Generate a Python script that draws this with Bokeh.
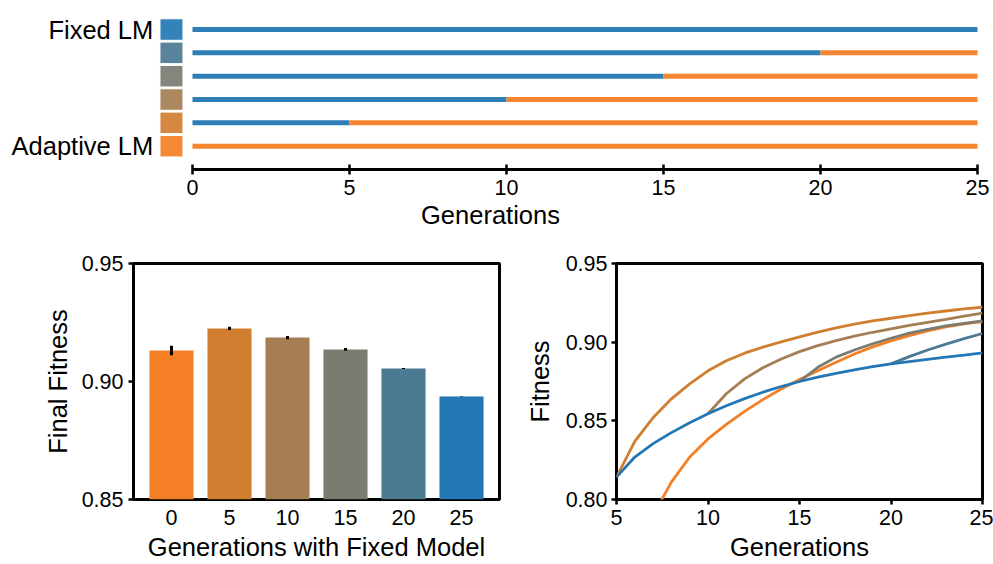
from bokeh.plotting import figure
from bokeh.layouts import column, row
from bokeh.models import Range1d, FixedTicker, NumeralTickFormatter
from bokeh.core.properties import value
from bokeh.embed import file_html
from bokeh.resources import INLINE

FONT = "Liberation Sans"
TICK_FS = "21.5px"
LABEL_FS = "25.5px"

# ---------------- data ----------------
switch_gens = [0, 5, 10, 15, 20, 25]           # generations with fixed model
colors = ["#f47f24", "#d07e30", "#a57e53", "#7b7b72", "#4c7a93", "#2377b4"]
final_fitness = [0.9131, 0.9225, 0.9186, 0.9136, 0.9055, 0.8936]
final_err = [0.0020, 0.0007, 0.0007, 0.0006, 0.0002, 0.0001]
total_gens = 25
row_labels = {0: "Adaptive LM", 5: "Fixed LM"}
fixed_color = "#2377b4"
adaptive_color = "#f47f24"

# fitness curves (generation, fitness)
gens_fixed = list(range(5, 26))
fit_fixed = [0.8142, 0.8270, 0.8355, 0.8425, 0.8488, 0.8545, 0.8596, 0.8641, 0.8682, 0.8718,
             0.8750, 0.8778, 0.8802, 0.8824, 0.8844, 0.8862, 0.8877, 0.8891, 0.8905, 0.8918, 0.8932]
gens_sw0 = list(range(7, 26))
fit_sw0 = [0.7900, 0.8110, 0.8270, 0.8385, 0.8478, 0.8560, 0.8635, 0.8702, 0.8762, 0.8818,
           0.8872, 0.8925, 0.8970, 0.9008, 0.9042, 0.9072, 0.9097, 0.9116, 0.9131]
gens_sw5 = list(range(5, 26))
fit_sw5 = [0.8142, 0.8370, 0.8520, 0.8640, 0.8735, 0.8818, 0.8882, 0.8930, 0.8968, 0.9002,
           0.9034, 0.9064, 0.9091, 0.9115, 0.9136, 0.9152, 0.9168, 0.9184, 0.9198, 0.9211, 0.9222]
gens_sw10 = list(range(10, 26))
fit_sw10 = [0.8545, 0.8672, 0.8767, 0.8837, 0.8893, 0.8940, 0.8978, 0.9010, 0.9038, 0.9063,
            0.9085, 0.9106, 0.9126, 0.9145, 0.9165, 0.9185]
gens_sw15 = list(range(15, 26))
fit_sw15 = [0.8750, 0.8840, 0.8905, 0.8950, 0.8990, 0.9025, 0.9057, 0.9082, 0.9103, 0.9120, 0.9135]
gens_sw20 = list(range(20, 26))
fit_sw20 = [0.8862, 0.8908, 0.8950, 0.8988, 0.9022, 0.9055]

curves = [(gens_sw0, fit_sw0), (gens_sw5, fit_sw5), (gens_sw10, fit_sw10),
          (gens_sw15, fit_sw15), (gens_sw20, fit_sw20), (gens_fixed, fit_fixed)]


def style_axes(p):
    for ax in p.axis:
        ax.major_label_text_font = FONT
        ax.major_label_text_font_size = TICK_FS
        ax.major_label_text_color = "black"
        ax.axis_label_text_font = FONT
        ax.axis_label_text_font_size = LABEL_FS
        ax.axis_label_text_font_style = "normal"
        ax.axis_label_text_color = "black"
        ax.minor_tick_line_color = None
        ax.major_tick_line_color = "black"
        ax.major_tick_line_width = 2.5
        ax.major_tick_in = 0
        ax.major_tick_out = 5
        ax.axis_line_color = None
    p.grid.visible = False
    p.background_fill_color = "white"
    p.border_fill_color = "white"


# ---------------- top panel ----------------
top = figure(width=993, height=240, output_backend="svg", toolbar_location=None,
             x_range=Range1d(-6.115, 25.096), y_range=Range1d(-1.0, 6.245),
             y_axis_location=None, min_border_left=0, min_border_right=13,
             min_border_top=0, min_border_bottom=71)
style_axes(top)
top.outline_line_color = None
ax = top.xaxis[0]
ax.ticker = FixedTicker(ticks=[0, 5, 10, 15, 20, 25])
ax.bounds = (0, total_gens)
ax.axis_line_color = "black"
ax.axis_line_width = 3
ax.major_tick_in = 5
ax.major_tick_out = 5
ax.major_label_standoff = 5
ax.axis_label = "Generations"
ax.axis_label_standoff = 3

rows_y = list(range(len(switch_gens)))
bx0, bx1, by = [], [], []
ox0, ox1, oy = [], [], []
for yy, s in zip(rows_y, switch_gens):
    if s > 0:
        bx0.append(0); bx1.append(s); by.append(yy)
    if s < total_gens:
        ox0.append(s); ox1.append(total_gens); oy.append(yy)
top.segment(x0=bx0, y0=by, x1=bx1, y1=by, line_color=fixed_color, line_width=5,
            line_cap="butt", line_alpha=0.95)
top.segment(x0=ox0, y0=oy, x1=ox1, y1=oy, line_color=adaptive_color, line_width=5,
            line_cap="butt", line_alpha=0.95)
top.rect(x=[-0.67] * len(rows_y), y=rows_y, width=23, height=21.5,
         width_units="screen", height_units="screen",
         fill_color=colors, fill_alpha=0.92, line_color="white", line_width=1)
top.text(x=[-1.25, -1.25], y=list(row_labels.keys()), text=list(row_labels.values()),
         text_font=value(FONT), text_font_size=LABEL_FS, text_align="right",
         text_baseline="middle", text_color="black")

# ---------------- bottom-left: bar chart ----------------
idx = list(range(len(switch_gens)))
bl = figure(width=508, height=324, output_backend="svg", toolbar_location=None,
            x_range=Range1d(-0.655, 5.655), y_range=Range1d(0.85, 0.95),
            min_border_left=133, min_border_right=9, min_border_top=23, min_border_bottom=65)
style_axes(bl)
bl.outline_line_color = "black"
bl.outline_line_width = 3
bl.outline_line_alpha = 1
bl.vbar(x=idx, top=final_fitness, bottom=0.85, width=0.76, fill_color=colors, line_color=None)
bl.segment(x0=idx, x1=idx,
           y0=[f - e for f, e in zip(final_fitness, final_err)],
           y1=[f + e for f, e in zip(final_fitness, final_err)],
           line_color="black", line_width=3)
bx = bl.xaxis[0]
bx.ticker = FixedTicker(ticks=idx)
bx.major_label_overrides = {i: str(g) for i, g in zip(idx, switch_gens)}
bx.major_tick_out = 0
bx.major_label_standoff = 10
bx.axis_label = "Generations with Fixed Model"
bx.axis_label_standoff = 5
by_ = bl.yaxis[0]
by_.ticker = FixedTicker(ticks=[0.85, 0.90, 0.95])
by_.formatter = NumeralTickFormatter(format="0.00")
by_.major_label_standoff = 5
by_.axis_label = "Final Fitness"
by_.axis_label_standoff = 7

# ---------------- bottom-right: fitness curves ----------------
br = figure(width=485, height=324, output_backend="svg", toolbar_location=None,
            x_range=Range1d(5, 25), y_range=Range1d(0.80, 0.95),
            min_border_left=108, min_border_right=11, min_border_top=23, min_border_bottom=65)
style_axes(br)
br.outline_line_color = "black"
br.outline_line_width = 3
br.outline_line_alpha = 1
for (gx, gy), c in zip(curves, colors):
    br.line(gx, gy, line_color=c, line_width=2.8)
rx = br.xaxis[0]
rx.ticker = FixedTicker(ticks=[5, 10, 15, 20, 25])
rx.major_label_standoff = 5
rx.axis_label = "Generations"
rx.axis_label_standoff = 5
ry = br.yaxis[0]
ry.ticker = FixedTicker(ticks=[0.80, 0.85, 0.90, 0.95])
ry.formatter = NumeralTickFormatter(format="0.00")
ry.major_label_standoff = 4
ry.axis_label = "Fitness"
ry.axis_label_standoff = 9

layout = column(top, row(bl, br))
open("out.html", "w").write(file_html(layout, INLINE))
